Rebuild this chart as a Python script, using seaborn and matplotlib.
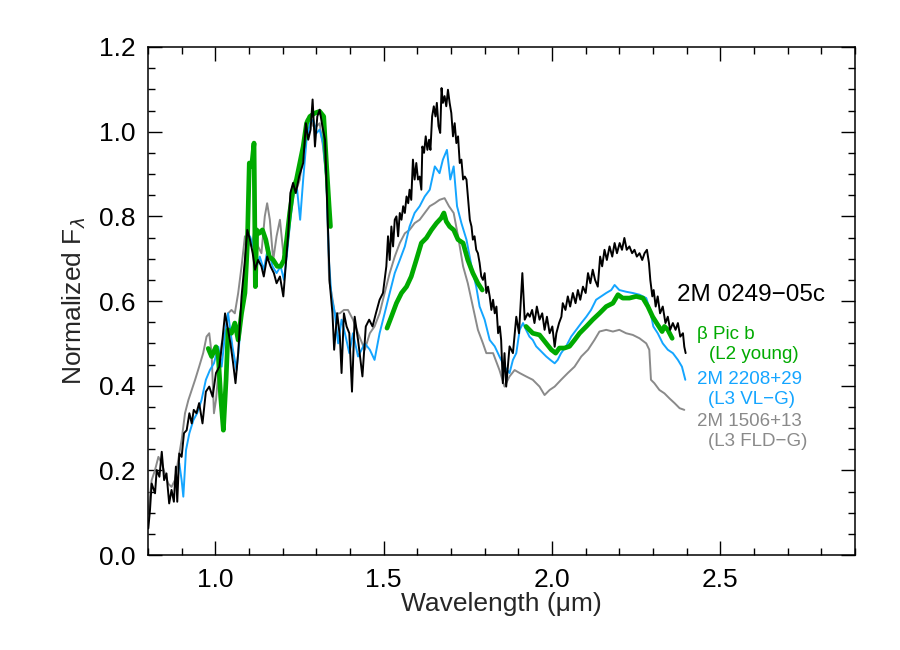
import numpy as np
import pandas as pd
import matplotlib
matplotlib.use("Agg")
import matplotlib.pyplot as plt
import seaborn as sns
from matplotlib.ticker import MultipleLocator, FormatStrFormatter

# ---------------- data ----------------
black_wl = [0.801, 0.806, 0.811, 0.821, 0.826, 0.834, 0.841, 0.848, 0.855, 0.863, 0.870, 0.877, 0.883,
            0.887, 0.893, 0.900, 0.907, 0.915, 0.923, 0.930, 0.936, 0.944, 0.952, 0.962, 0.972, 0.982,
            0.992, 1.002, 1.012, 1.019, 1.029, 1.036, 1.045, 1.053, 1.060, 1.068, 1.078, 1.088, 1.095,
            1.103, 1.111, 1.118, 1.127, 1.137, 1.144, 1.154, 1.164, 1.174, 1.182, 1.192, 1.202, 1.209,
            1.216, 1.223, 1.231, 1.239, 1.249, 1.261, 1.269, 1.276, 1.283, 1.289, 1.296, 1.303, 1.310,
            1.318, 1.326, 1.333, 1.340, 1.348, 1.353, 1.362, 1.370, 1.375, 1.382, 1.390, 1.398, 1.406,
            1.414, 1.424, 1.437, 1.447, 1.457, 1.467, 1.477,
            1.488, 1.498, 1.508, 1.513, 1.518, 1.523, 1.528, 1.533, 1.538, 1.543, 1.548, 1.553, 1.558,
            1.563, 1.568, 1.573, 1.577, 1.582, 1.587, 1.592, 1.597, 1.602, 1.607, 1.612, 1.615, 1.620,
            1.625, 1.630, 1.635, 1.639, 1.644, 1.649, 1.654, 1.658, 1.663, 1.668, 1.672, 1.676, 1.681,
            1.686, 1.691, 1.696, 1.701, 1.706, 1.711, 1.716, 1.721, 1.726, 1.731, 1.736, 1.741, 1.746,
            1.751, 1.756, 1.761, 1.765, 1.770, 1.775, 1.780, 1.785, 1.790, 1.795, 1.800, 1.805, 1.810,
            1.815, 1.820, 1.825, 1.830, 1.835, 1.840, 1.845, 1.849, 1.854, 1.859, 1.864, 1.874, 1.884,
            1.894, 1.902, 1.912, 1.919, 1.928,
            1.934, 1.941, 1.948, 1.955, 1.963, 1.971, 1.978, 1.985, 1.993, 2.001, 2.008, 2.013, 2.021,
            2.028, 2.032, 2.040, 2.047, 2.054, 2.062, 2.070, 2.077, 2.084, 2.092, 2.100, 2.107, 2.114,
            2.121, 2.128, 2.136, 2.143, 2.149, 2.156, 2.163, 2.171, 2.179, 2.186, 2.193, 2.201, 2.208,
            2.215, 2.222, 2.230, 2.238, 2.245, 2.252, 2.260, 2.268, 2.275, 2.282, 2.288, 2.292, 2.298,
            2.302, 2.308, 2.314, 2.321, 2.329, 2.337, 2.344, 2.351, 2.359, 2.367, 2.374, 2.381, 2.389,
            2.393, 2.397]
black_fl = [0.063, 0.106, 0.169, 0.146, 0.201, 0.185, 0.244, 0.177, 0.193, 0.122, 0.154, 0.126, 0.209,
            0.126, 0.240, 0.232, 0.288, 0.295, 0.335, 0.311, 0.343, 0.335, 0.359, 0.311, 0.386, 0.398,
            0.374, 0.430, 0.445, 0.492, 0.571, 0.540, 0.500, 0.453, 0.406, 0.477, 0.611, 0.697, 0.768,
            0.745, 0.713, 0.674, 0.697, 0.682, 0.658, 0.705, 0.682, 0.666, 0.642, 0.658, 0.611, 0.682,
            0.753, 0.855, 0.879, 0.855, 0.894, 0.926, 1.020, 0.981, 1.005, 1.076, 0.965, 1.036, 1.052,
            1.013, 0.981, 0.808, 0.642, 0.571, 0.485, 0.571, 0.516, 0.430, 0.571, 0.540, 0.524, 0.386,
            0.563, 0.508, 0.422, 0.540, 0.556, 0.540, 0.571,
            0.603, 0.619, 0.682, 0.753, 0.697, 0.776, 0.729, 0.792, 0.800, 0.753, 0.808, 0.792, 0.824,
            0.808, 0.847, 0.831, 0.863, 0.839, 0.934, 0.887, 0.926, 0.887, 0.894, 0.863, 0.965, 0.950,
            0.989, 0.957, 0.981, 0.957, 1.036, 1.060, 1.036, 1.068, 1.013, 0.997, 1.103, 1.068, 1.084,
            1.060, 1.099, 1.068, 1.044, 0.989, 1.020, 0.973, 0.989, 0.926, 0.934, 0.887, 0.894, 0.887,
            0.839, 0.792, 0.776, 0.745, 0.753, 0.721, 0.713, 0.690, 0.658, 0.650, 0.666, 0.619, 0.634,
            0.611, 0.579, 0.603, 0.571, 0.587, 0.524, 0.540, 0.508, 0.406, 0.477, 0.398, 0.493, 0.477,
            0.563, 0.524, 0.666, 0.556, 0.571,
            0.563, 0.579, 0.548, 0.587, 0.556, 0.571, 0.532, 0.563, 0.524, 0.540, 0.492, 0.524, 0.548,
            0.563, 0.595, 0.579, 0.611, 0.587, 0.619, 0.595, 0.626, 0.603, 0.634, 0.619, 0.666, 0.642,
            0.674, 0.650, 0.634, 0.705, 0.682, 0.721, 0.697, 0.729, 0.705, 0.737, 0.713, 0.737, 0.721,
            0.749, 0.721, 0.729, 0.713, 0.721, 0.705, 0.713, 0.697, 0.713, 0.721, 0.690, 0.650, 0.611,
            0.626, 0.587, 0.611, 0.571, 0.587, 0.548, 0.563, 0.532, 0.548, 0.532, 0.548, 0.516, 0.524,
            0.492, 0.477]

blue_wl = [0.893, 0.900, 0.905, 0.913, 0.923, 0.935, 0.946, 0.959, 0.972, 0.984, 0.996, 1.009, 1.019,
           1.029, 1.038, 1.051, 1.063, 1.073, 1.083, 1.093, 1.103, 1.113, 1.123, 1.132, 1.144, 1.157,
           1.170, 1.182, 1.194, 1.204, 1.213, 1.223, 1.233, 1.243, 1.252, 1.261, 1.271, 1.281, 1.291,
           1.301, 1.310, 1.320, 1.330, 1.338, 1.345, 1.355, 1.365, 1.375, 1.385, 1.398, 1.409, 1.424,
           1.444, 1.459, 1.473, 1.488, 1.503, 1.518, 1.533, 1.548, 1.563, 1.577, 1.592, 1.607, 1.622,
           1.637, 1.652, 1.666, 1.676, 1.688, 1.698, 1.708, 1.718, 1.731, 1.746, 1.761, 1.775, 1.785,
           1.800, 1.815, 1.830, 1.844, 1.859, 1.874, 1.884, 1.894, 1.904, 1.914, 1.923, 1.933, 1.943,
           1.953, 1.963, 1.973, 1.983, 1.995, 2.008, 2.017, 2.027, 2.042, 2.057, 2.072, 2.087, 2.102,
           2.116, 2.131, 2.146, 2.161, 2.176, 2.186, 2.200, 2.220, 2.240, 2.260, 2.280, 2.291, 2.301,
           2.314, 2.329, 2.344, 2.359, 2.374, 2.386, 2.396]
blue_fl = [0.217, 0.177, 0.138, 0.248, 0.288, 0.319, 0.335, 0.366, 0.414, 0.437, 0.453, 0.492, 0.445,
           0.524, 0.571, 0.492, 0.437, 0.516, 0.619, 0.721, 0.753, 0.729, 0.682, 0.705, 0.674, 0.729,
           0.682, 0.666, 0.682, 0.650, 0.713, 0.792, 0.855, 0.863, 0.792, 0.887, 0.981, 1.020, 1.028,
           0.997, 1.005, 0.973, 0.887, 0.690, 0.611, 0.571, 0.500, 0.556, 0.524, 0.477, 0.524, 0.469,
           0.500, 0.485, 0.461, 0.524, 0.571, 0.619, 0.666, 0.697, 0.729, 0.776, 0.808, 0.824, 0.847,
           0.863, 0.918, 0.902, 0.934, 0.957, 0.887, 0.918, 0.824, 0.784, 0.745, 0.682, 0.634, 0.587,
           0.556, 0.508, 0.493, 0.469, 0.445, 0.430, 0.461, 0.477, 0.532, 0.548, 0.532, 0.516, 0.508,
           0.493, 0.485, 0.477, 0.469, 0.461, 0.453, 0.461, 0.477, 0.493, 0.516, 0.532, 0.548, 0.563,
           0.579, 0.603, 0.611, 0.619, 0.626, 0.638, 0.626, 0.622, 0.619, 0.615, 0.607, 0.579, 0.540,
           0.524, 0.500, 0.485, 0.477, 0.461, 0.445, 0.414]

gray_wl = [0.801, 0.811, 0.821, 0.831, 0.841, 0.850, 0.860, 0.870, 0.880, 0.890, 0.900, 0.910, 0.920,
           0.930, 0.940, 0.952, 0.964, 0.974, 0.982, 0.989, 0.996, 1.002, 1.009, 1.019, 1.029, 1.038,
           1.048, 1.058, 1.068, 1.078, 1.088, 1.098, 1.108, 1.118, 1.127, 1.137, 1.147, 1.154, 1.162,
           1.172, 1.182, 1.192, 1.202, 1.212, 1.221, 1.231, 1.241, 1.251, 1.261, 1.271, 1.281, 1.291,
           1.301, 1.310, 1.320, 1.330, 1.338, 1.345, 1.355, 1.370, 1.382, 1.394, 1.409, 1.424, 1.444,
           1.459, 1.473, 1.488, 1.503, 1.518, 1.533, 1.548, 1.563, 1.577, 1.592, 1.607, 1.622, 1.637,
           1.652, 1.666, 1.681, 1.694, 1.708, 1.721, 1.736, 1.750, 1.765, 1.780, 1.795, 1.805, 1.825,
           1.844, 1.859, 1.874, 1.889, 1.904, 1.923, 1.943, 1.963, 1.978, 1.993, 2.008, 2.027, 2.047,
           2.067, 2.087, 2.107, 2.126, 2.141, 2.161, 2.181, 2.200, 2.220, 2.240, 2.260, 2.280, 2.289,
           2.294, 2.304, 2.319, 2.334, 2.349, 2.364, 2.379, 2.393]
gray_fl = [0.098, 0.177, 0.201, 0.232, 0.217, 0.193, 0.169, 0.161, 0.177, 0.225, 0.272, 0.335, 0.366,
           0.390, 0.414, 0.445, 0.477, 0.516, 0.524, 0.477, 0.335, 0.366, 0.430, 0.500, 0.524, 0.571,
           0.579, 0.571, 0.619, 0.682, 0.753, 0.737, 0.729, 0.776, 0.729, 0.713, 0.800, 0.831, 0.792,
           0.697, 0.753, 0.792, 0.713, 0.705, 0.808, 0.871, 0.863, 0.887, 0.950, 1.028, 1.036, 1.013,
           1.013, 1.020, 0.965, 0.887, 0.650, 0.619, 0.571, 0.571, 0.579, 0.579, 0.556, 0.524, 0.485,
           0.524, 0.540, 0.571, 0.619, 0.666, 0.705, 0.737, 0.760, 0.768, 0.784, 0.792, 0.808, 0.824,
           0.831, 0.839, 0.843, 0.824, 0.808, 0.753, 0.682, 0.642, 0.587, 0.532, 0.500, 0.477, 0.477,
           0.437, 0.398, 0.422, 0.437, 0.430, 0.422, 0.414, 0.398, 0.378, 0.390, 0.398, 0.414, 0.430,
           0.445, 0.469, 0.485, 0.508, 0.528, 0.532, 0.528, 0.532, 0.524, 0.520, 0.512, 0.500, 0.485,
           0.414, 0.406, 0.390, 0.382, 0.370, 0.359, 0.347, 0.343]

green_wl = [0.979, 0.989, 1.002, 1.009, 1.016, 1.024, 1.032, 1.038, 1.048, 1.058, 1.068, 1.078, 1.088,
            1.095, 1.101, 1.108, 1.115, 1.119, 1.123, 1.130, 1.140, 1.150, 1.160, 1.172, 1.184, 1.194,
            1.204, 1.212, 1.221, 1.231, 1.241, 1.251, 1.261, 1.271, 1.281, 1.296, 1.310, 1.322, 1.330,
            1.338, 1.342,
            1.510, 1.523, 1.538, 1.553, 1.568, 1.582, 1.597, 1.612, 1.627, 1.642, 1.657, 1.671, 1.679,
            1.686, 1.696, 1.708, 1.721, 1.736, 1.750, 1.765, 1.780, 1.793,
            1.923, 1.943, 1.963, 1.983, 1.998, 2.011, 2.022, 2.037, 2.052, 2.067, 2.082, 2.102, 2.121,
            2.141, 2.161, 2.181, 2.196, 2.210, 2.230, 2.250, 2.270, 2.285, 2.299, 2.314, 2.327, 2.334,
            2.344, 2.357]
green_fl = [0.488, 0.469, 0.492, 0.469, 0.374, 0.295, 0.414, 0.532, 0.524, 0.548, 0.508, 0.571, 0.619,
            0.729, 0.926, 0.918, 0.973, 0.634, 0.768, 0.760, 0.768, 0.745, 0.705, 0.697, 0.682, 0.682,
            0.697, 0.745, 0.808, 0.863, 0.887, 0.926, 0.965, 1.020, 1.036, 1.044, 1.048, 1.036, 0.926,
            0.824, 0.776,
            0.536, 0.563, 0.595, 0.619, 0.634, 0.658, 0.697, 0.737, 0.749, 0.768, 0.784, 0.796, 0.808,
            0.788, 0.776, 0.768, 0.745, 0.737, 0.697, 0.666, 0.642, 0.626,
            0.540, 0.524, 0.520, 0.500, 0.485, 0.477, 0.489, 0.489, 0.493, 0.508, 0.524, 0.540, 0.556,
            0.571, 0.587, 0.595, 0.615, 0.607, 0.607, 0.611, 0.607, 0.587, 0.563, 0.544, 0.528, 0.540,
            0.532, 0.512]
green_seg_sizes = [41, 22, 28]

# ---------------- figure ----------------
sns.set_theme(style="white")
plt.rcParams["font.family"] = ["Liberation Sans", "DejaVu Sans"]

fig = plt.figure(figsize=(9, 6.5), dpi=100)
ax = fig.add_axes([0.1644, 0.146, 0.7856, 0.7817])

green_seg = np.repeat(np.arange(len(green_seg_sizes)), green_seg_sizes)
df_gray = pd.DataFrame({"wl": gray_wl, "fl": gray_fl})
df_blue = pd.DataFrame({"wl": blue_wl, "fl": blue_fl})
df_green = pd.DataFrame({"wl": green_wl, "fl": green_fl, "seg": green_seg})
df_black = pd.DataFrame({"wl": black_wl, "fl": black_fl})

sns.lineplot(data=df_gray, x="wl", y="fl", color="#8a8a8a", lw=1.4, sort=False, estimator=None, ax=ax)
sns.lineplot(data=df_blue, x="wl", y="fl", color="#14a5ff", lw=1.4, sort=False, estimator=None, ax=ax)
sns.lineplot(data=df_green, x="wl", y="fl", units="seg", color="#00aa00", lw=3.4, sort=False,
             estimator=None, ax=ax)
sns.lineplot(data=df_black, x="wl", y="fl", color="black", lw=1.4, sort=False, estimator=None, ax=ax)

ax.set_xlim(0.8, 2.9)
ax.set_ylim(0.0, 1.2)
ax.xaxis.set_major_locator(MultipleLocator(0.5))
ax.xaxis.set_minor_locator(MultipleLocator(0.1))
ax.yaxis.set_major_locator(MultipleLocator(0.2))
ax.yaxis.set_minor_locator(MultipleLocator(0.05))
ax.xaxis.set_major_formatter(FormatStrFormatter("%.1f"))
ax.yaxis.set_major_formatter(FormatStrFormatter("%.1f"))
ax.tick_params(which="both", direction="in", top=True, right=True, bottom=True, left=True,
               colors="black", width=1.0)
ax.tick_params(which="major", length=10, labelsize=19, pad=9)
ax.tick_params(which="minor", length=5)
for s in ax.spines.values():
    s.set_color("black")
    s.set_linewidth(1.1)

ax.set_xlabel("Wavelength (μm)", fontsize=19, labelpad=0)
ax.set_ylabel(r"Normalized F$_\lambda$", fontsize=19, labelpad=8)

ax.text(2.37, 0.615, "2M 0249−05c", color="black", fontsize=17.5, va="center", ha="left")
ax.text(2.43, 0.521, "β Pic b", color="#00aa00", fontsize=13.5, va="center", ha="left")
ax.text(2.465, 0.474, "(L2 young)", color="#00aa00", fontsize=13.5, va="center", ha="left")
ax.text(2.43, 0.414, "2M 2208+29", color="#14a5ff", fontsize=13.5, va="center", ha="left")
ax.text(2.462, 0.367, "(L3 VL−G)", color="#14a5ff", fontsize=13.5, va="center", ha="left")
ax.text(2.43, 0.315, "2M 1506+13", color="#8a8a8a", fontsize=13.5, va="center", ha="left")
ax.text(2.462, 0.268, "(L3 FLD−G)", color="#8a8a8a", fontsize=13.5, va="center", ha="left")

fig.savefig("out.png", dpi=100, facecolor="white")
